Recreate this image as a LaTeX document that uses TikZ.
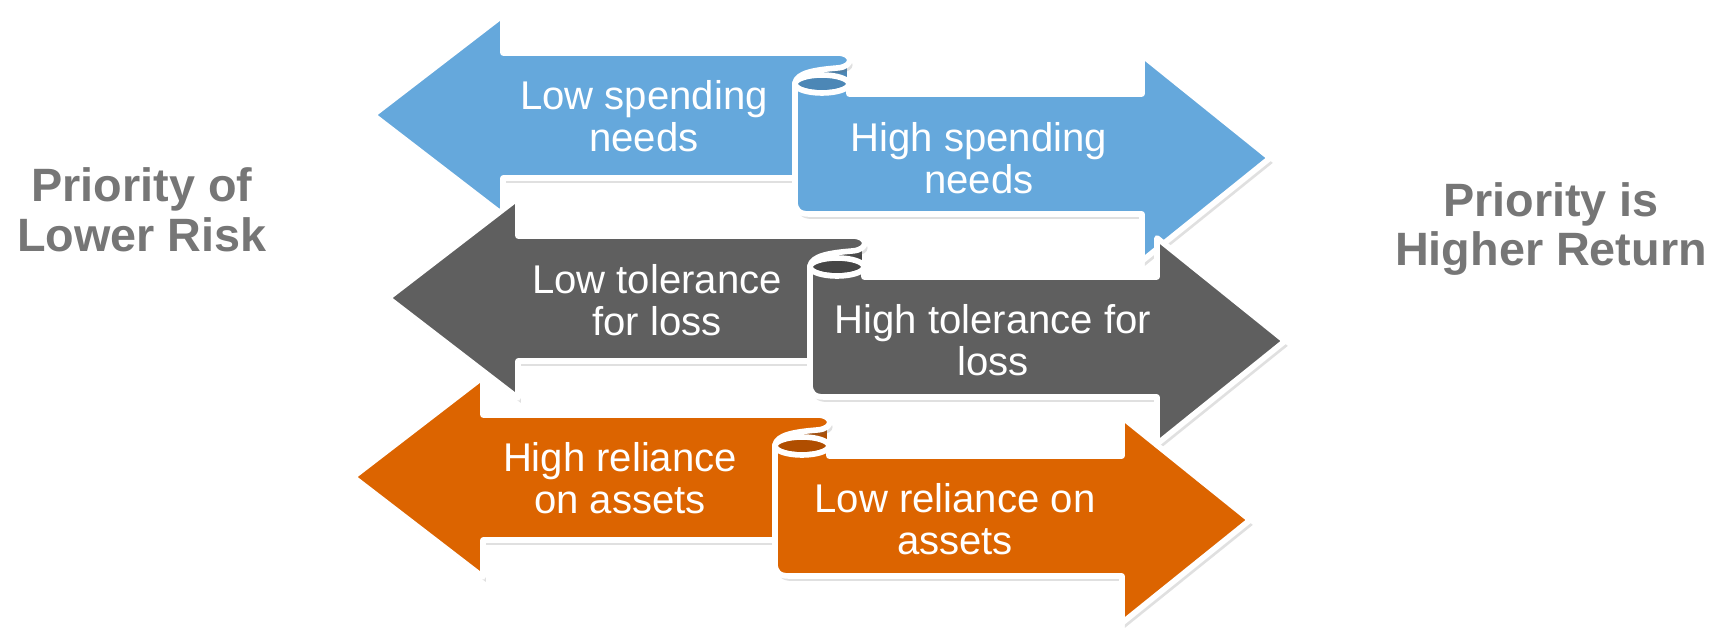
\documentclass[tikz,border=0pt]{standalone}
\usepackage{fontspec}
\setmainfont{Liberation Sans}
\usepackage{tikz}
\usetikzlibrary{shadows}

\definecolor{blueA}{RGB}{101,168,220}
\definecolor{blueB}{RGB}{76,135,182}
\definecolor{greyA}{RGB}{95,95,95}
\definecolor{greyB}{RGB}{70,70,70}
\definecolor{orangeA}{RGB}{220,100,0}
\definecolor{orangeB}{RGB}{176,78,0}
\definecolor{sidegrey}{RGB}{118,118,118}

\tikzset{
    ribbonline/.style={draw=white, line width=1.6pt, line join=round},
    ribbonshadow/.style={drop shadow={shadow xshift=0.8pt, shadow yshift=-1.4pt, opacity=0.2, fill=black!60}},
    ribbontext/.style={text=white, align=center, font=\fontsize{11.4}{11.8}\selectfont},
    sidetext/.style={text=sidegrey, align=center, font=\fontsize{13.3}{14.2}\selectfont\bfseries},
    % left arrow on top, right arrow below, rolled in the middle
    % #1 front colour, #2 back colour
    pics/ribbon/.style n args={2}{code={
        % back of the fold
        \draw[ribbonline, fill=#2] (428,-56) -- (477,-56) -- (477,-20) -- (428,-20) -- cycle;
        % left arrow and its lip
        \draw[ribbonline, ribbonshadow, fill=#1] (0,0) -- (130,-100) -- (130,-62) -- (464,-62)
            .. controls (481,-62) and (481,-48) .. (464,-47)
            .. controls (440,-45) and (424,-42) .. (422,-32)
            -- (422,63) -- (130,63) -- (130,100) -- cycle;
        % inside of the roll
        \draw[ribbonline, fill=#2] (449,-31) ellipse [x radius=27, y radius=9];
        % right arrow
        \draw[ribbonline, ribbonshadow, fill=#1] (422,-31)
            arc[start angle=180, end angle=0, x radius=27, y radius=9]
            -- (476,-21) -- (769,-21) -- (769,-60) -- (897,43) -- (769,146) -- (769,99)
            -- (436,99) .. controls (426,99) and (422,95) .. (422,86) -- cycle;
    }}
}

\begin{document}
\begin{tikzpicture}[x=0.01cm, y=-0.01cm]
\useasboundingbox (0,0) rectangle (1729,634);

%%% ribbons
\pic at (373,115) {ribbon={blueA}{blueB}};
\pic at (388,298) {ribbon={greyA}{greyB}};
\pic at (353,477) {ribbon={orangeA}{orangeB}};

%%% texts on the ribbons
\node[ribbontext] (lowSpend)  at (644,116) {Low spending\\needs};
\node[ribbontext] (highSpend) at (979,158) {High spending\\needs};
\node[ribbontext] (lowTol)    at (657,300) {Low tolerance\\for loss};
\node[ribbontext] (highTol)   at (993,340) {High tolerance for\\loss};
\node[ribbontext] (highRel)   at (620,478) {High reliance\\on assets};
\node[ribbontext] (lowRel)    at (955,519) {Low reliance on\\assets};

%%% both sides
\node[sidetext] (lowRisk)    at (142,210) {Priority of\\Lower Risk};
\node[sidetext] (highReturn) at (1551,229) {Priority is\\Higher Return};
\end{tikzpicture}
\end{document}
